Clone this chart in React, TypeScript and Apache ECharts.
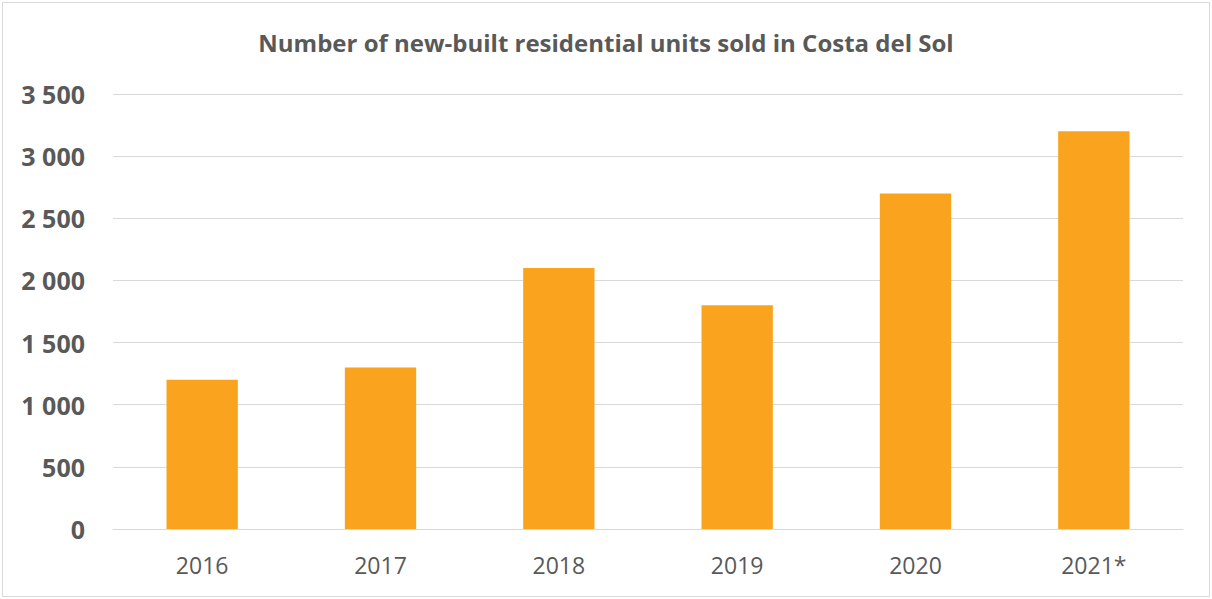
import React, { useEffect, useRef } from "react";
import * as echarts from "echarts";

const categories = ["2016", "2017", "2018", "2019", "2020", "2021*"];
const unitsSold = [1200, 1300, 2100, 1800, 2700, 3200];
const titleText = "Number of new-built residential units sold in Costa del Sol";

export default function App() {
  const ref = useRef<HTMLDivElement>(null);
  useEffect(() => {
    document.body.style.margin = "0";
    const chart = echarts.init(ref.current!, null, { renderer: "svg" });
    chart.setOption({
      animation: false,
      backgroundColor: "#ffffff",
      title: {
        text: titleText,
        left: "center",
        top: 25,
        textStyle: {
          fontFamily: "Open Sans",
          fontSize: 24,
          fontWeight: "bold",
          color: "#595959",
        },
      },
      graphic: [
        {
          type: "rect",
          shape: { x: 2.5, y: 2.5, width: 1207, height: 594 },
          style: { fill: "none", stroke: "#d9d9d9", lineWidth: 1 },
          silent: true,
        },
      ],
      grid: { left: 113, right: 29, top: 94, bottom: 70 },
      xAxis: {
        type: "category",
        data: categories,
        axisLine: { lineStyle: { color: "#d9d9d9", width: 1 } },
        axisTick: { show: false },
        axisLabel: {
          fontFamily: "Open Sans",
          fontSize: 23,
          color: "#595959",
          margin: 24,
        },
      },
      yAxis: {
        type: "value",
        min: 0,
        max: 3500,
        interval: 500,
        axisLine: { show: false },
        axisTick: { show: false },
        splitLine: { lineStyle: { color: "#d9d9d9", width: 1 } },
        axisLabel: {
          fontFamily: "Open Sans",
          fontSize: 25,
          fontWeight: "bold",
          color: "#595959",
          margin: 28,
          formatter: (v: number) => String(v).replace(/\B(?=(\d{3})+(?!\d))/g, " "),
        },
      },
      series: [
        {
          type: "bar",
          data: unitsSold,
          barWidth: "40%",
          itemStyle: { color: "#F9A31E" },
        },
      ],
    });
    return () => chart.dispose();
  }, []);
  return <div ref={ref} style={{ width: 1212, height: 599 }} />;
}
